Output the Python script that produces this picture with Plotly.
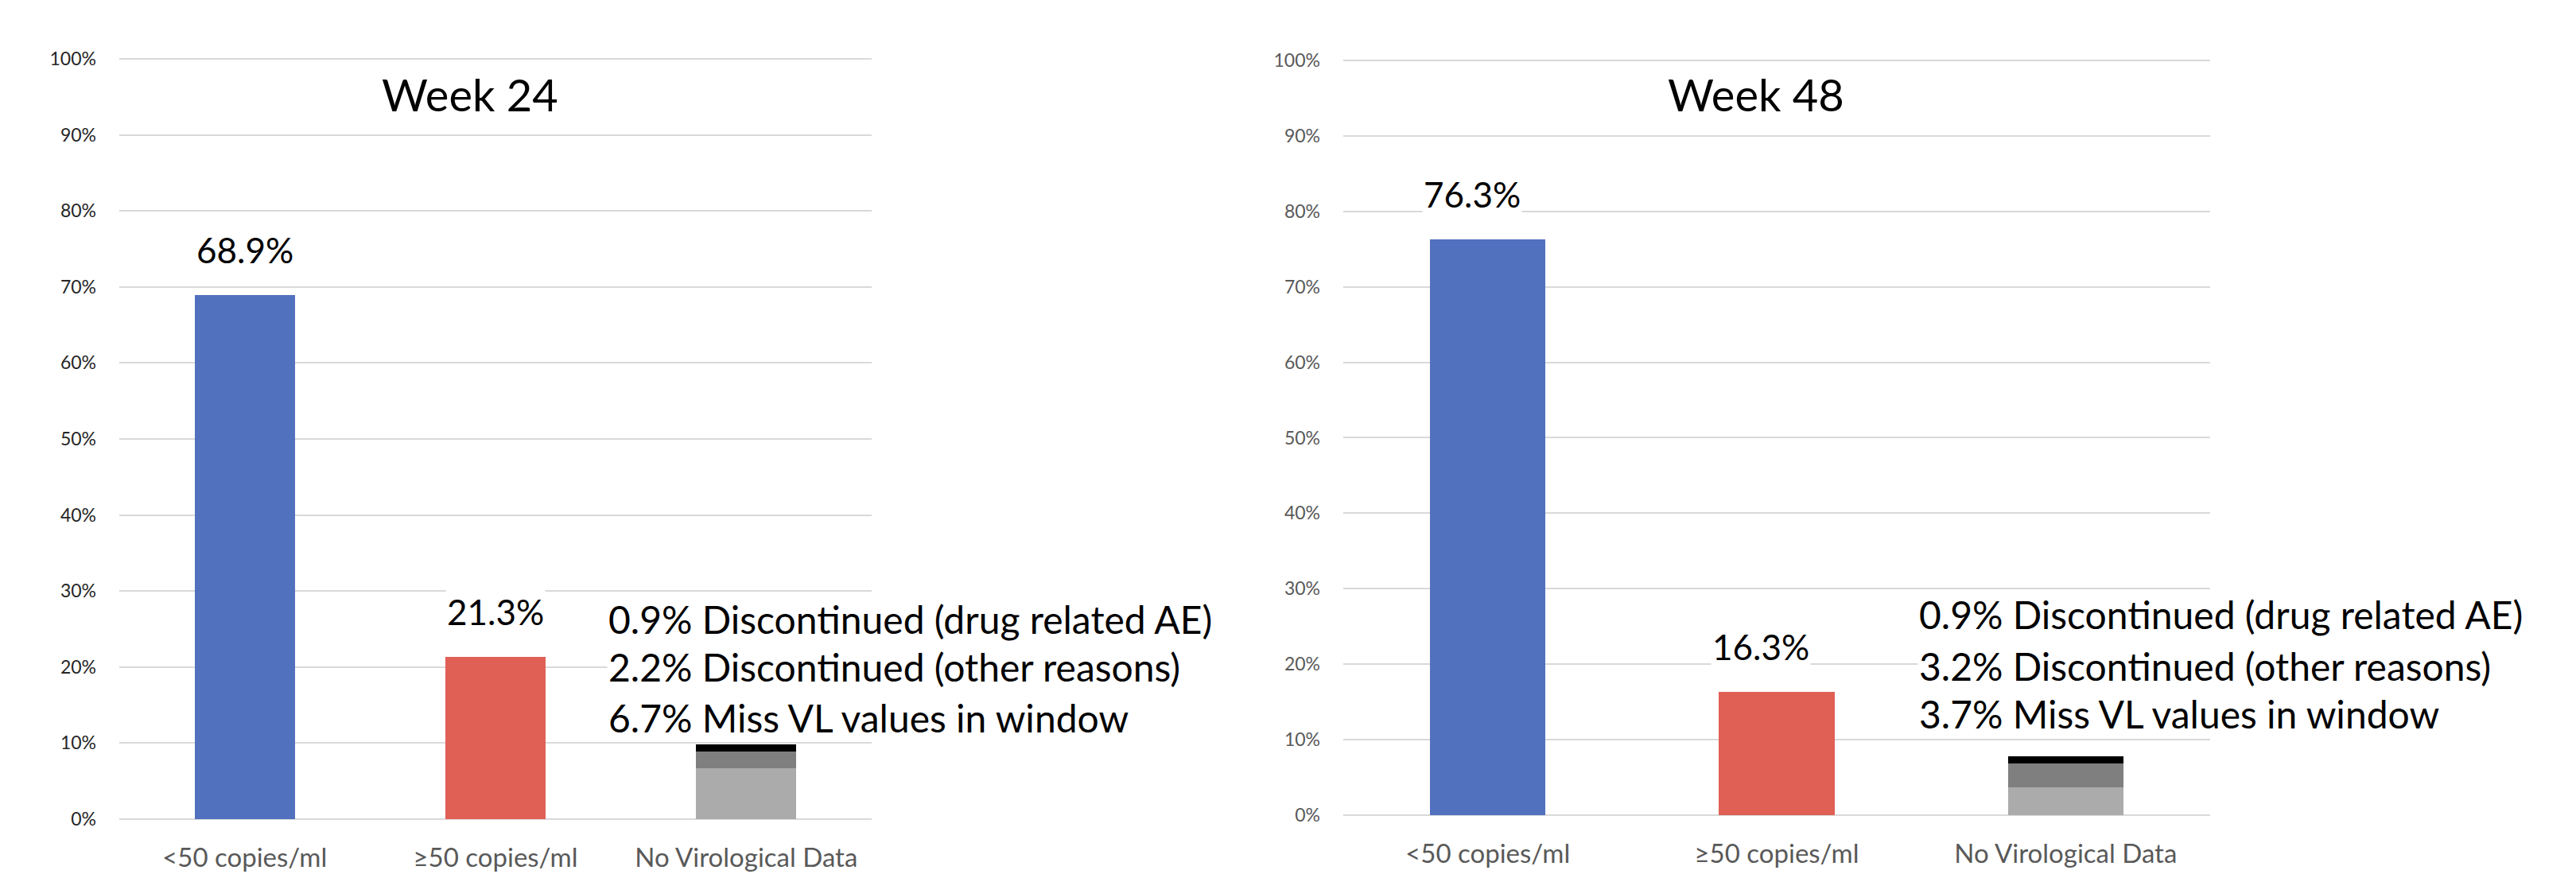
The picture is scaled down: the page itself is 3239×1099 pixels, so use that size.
import plotly.graph_objects as go

W, H = 3239, 1099

categories = ["<50 copies/ml", "≥50 copies/ml", "No Virological Data"]
titles = ["Week 24", "Week 48"]

# main outcome percentages per panel
suppressed = [68.9, 76.3]
not_suppressed = [21.3, 16.3]
# No virological data breakdown per panel
miss_vl = [6.7, 3.7]
disc_other = [2.2, 3.2]
disc_ae = [0.9, 0.9]

FONT = "Lato"
C_BLUE = "#5170BE"
C_RED = "#E06056"
C_LIGHT = "#ABABAB"
C_MID = "#7F7F7F"
C_BLACK = "#000000"

fig = go.Figure()

# pixel geometry of the two plot areas
x_dom = [(150, 1096), (1689, 2779)]
y_px = [(1030, 74), (1025, 76)]  # pixel rows of 0% and 100%
PAD = 0.25  # small range padding so the 0% / 100% gridlines are not clipped
y_dom = []
for b, t in y_px:
    ppu = (b - t) / 100.0
    y_dom.append((b + PAD * ppu, t - PAD * ppu))
tick_colors = ["#262626", "#595959"]
label_xshift = [0, -20]
text_x = [763, 2411]
text_y = [(778, 838, 902), (772, 837, 898)]
title_x = [591, 2208]

for i in range(2):
    xa = "x" if i == 0 else "x2"
    ya = "y" if i == 0 else "y2"
    fig.add_trace(go.Bar(x=categories[:2], y=[suppressed[i], not_suppressed[i]],
                         marker=dict(color=[C_BLUE, C_RED], line=dict(width=0)),
                         xaxis=xa, yaxis=ya, showlegend=False, hoverinfo="skip"))
    fig.add_trace(go.Bar(x=[categories[2]], y=[miss_vl[i]], marker=dict(color=C_LIGHT, line=dict(width=0)),
                         xaxis=xa, yaxis=ya, showlegend=False, hoverinfo="skip"))
    fig.add_trace(go.Bar(x=[categories[2]], y=[disc_other[i]], marker=dict(color=C_MID, line=dict(width=0)),
                         xaxis=xa, yaxis=ya, showlegend=False, hoverinfo="skip"))
    fig.add_trace(go.Bar(x=[categories[2]], y=[disc_ae[i]], marker=dict(color=C_BLACK, line=dict(width=0)),
                         xaxis=xa, yaxis=ya, showlegend=False, hoverinfo="skip"))

    # data labels
    for cat, val in zip(categories[:2], [suppressed[i], not_suppressed[i]]):
        fig.add_annotation(x=cat, y=val, xref=xa, yref=ya, text=f"{val}%",
                           showarrow=False, yanchor="middle", yshift=57, xshift=label_xshift[i],
                           font=dict(family=FONT, size=44, color="black"), bgcolor="white")

    # breakdown text
    lines = [f"{disc_ae[i]}% Discontinued (drug related AE)",
             f"{disc_other[i]}% Discontinued (other reasons)",
             f"{miss_vl[i]}% Miss VL values in window"]
    for ln, py in zip(lines, text_y[i]):
        fig.add_annotation(x=text_x[i] / W, y=1 - py / H, xref="paper", yref="paper", text=ln,
                           showarrow=False, xanchor="left", yanchor="middle",
                           font=dict(family=FONT, size=48, color="black"), bgcolor="white")

    # panel title
    fig.add_annotation(x=title_x[i] / W, y=1 - 119 / H, xref="paper", yref="paper", text=titles[i],
                       showarrow=False, xanchor="center", yanchor="middle",
                       font=dict(family=FONT, size=56, color="black"))

axis_common_x = dict(showgrid=False, zeroline=False, showline=False, ticks="", automargin=False,
                     tickfont=dict(family=FONT, size=33, color="#595959"), ticklabelstandoff=24)
axis_common_y = dict(range=[-PAD, 100 + PAD], tickvals=list(range(0, 101, 10)),
                     ticktext=[f"{v}%" for v in range(0, 101, 10)], showgrid=True, gridcolor="#D9D9D9",
                     gridwidth=2, zeroline=False, showline=False, ticks="", ticklabelstandoff=28,
                     automargin=False)

fig.update_layout(
    width=W, height=H, margin=dict(l=0, r=0, t=0, b=0),
    paper_bgcolor="white", plot_bgcolor="white",
    barmode="stack", bargap=0.6,
    xaxis=dict(domain=[x_dom[0][0] / W, x_dom[0][1] / W], anchor="y", **axis_common_x),
    xaxis2=dict(domain=[x_dom[1][0] / W, x_dom[1][1] / W], anchor="y2", **axis_common_x),
    yaxis=dict(domain=[1 - y_dom[0][0] / H, 1 - y_dom[0][1] / H], anchor="x",
               tickfont=dict(family=FONT, size=23, color=tick_colors[0]), **axis_common_y),
    yaxis2=dict(domain=[1 - y_dom[1][0] / H, 1 - y_dom[1][1] / H], anchor="x2",
                tickfont=dict(family=FONT, size=23, color=tick_colors[1]), **axis_common_y),
    font=dict(family=FONT),
)

fig.write_html("out.html")
